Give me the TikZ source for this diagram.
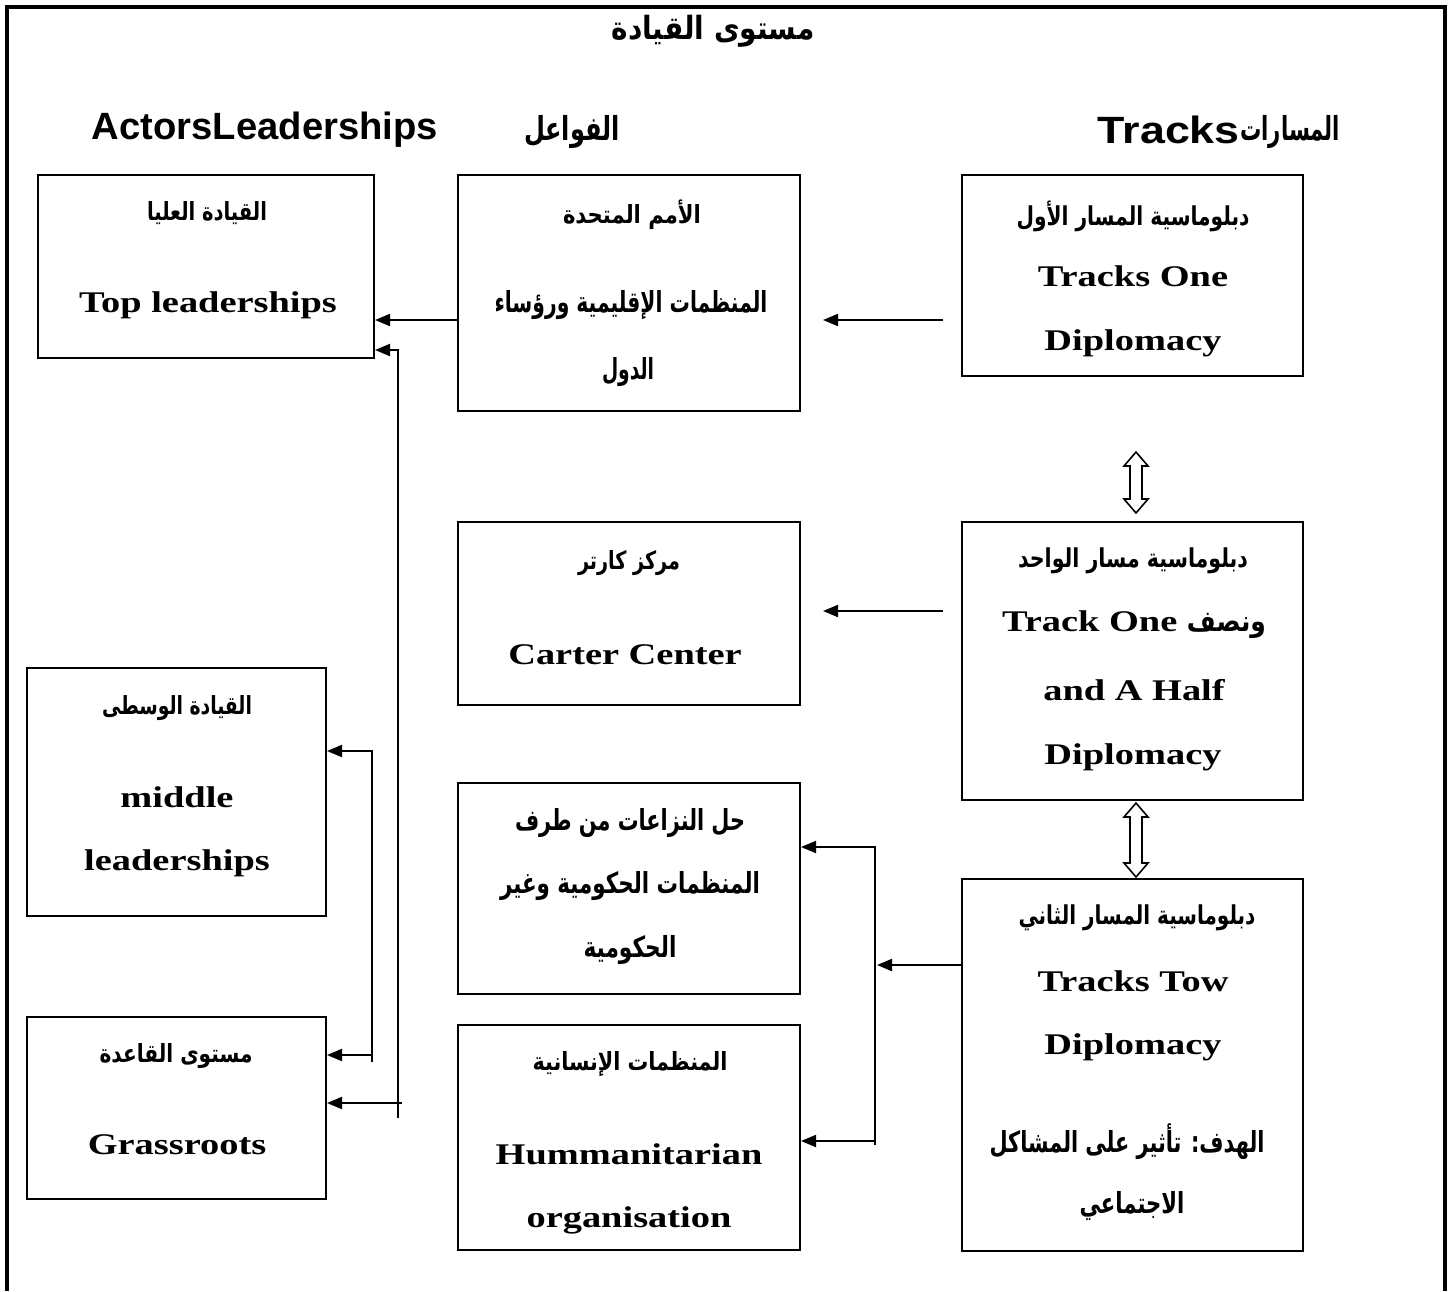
\documentclass[tikz,border=0pt]{standalone}
\usepackage{fontspec}
\usepackage{graphicx}
\usetikzlibrary{arrows.meta,calc}
\TeXXeTstate=1
\setmainfont{Liberation Serif}
\newfontfamily\latf[FakeStretch=1.28]{Liberation Serif}
\newfontfamily\headfont{Liberation Sans}
\newfontfamily\arabicfont[Script=Arabic]{DejaVu Sans}
% set a piece of text squeezed or stretched sideways to a given width (pt)
\newlength\fitwd
\newcommand\fitw[2]{%
  \settowidth\fitwd{#2}%
  \pgfmathsetmacro\fitsx{#1/\fitwd}%
  \scalebox{\fitsx}[1]{#2}}
% Arabic line: optional font size, target width, text
\newcommand\arline[3][25]{%
  \fitw{#2}{\arabicfont\bfseries\fontsize{#1}{#1}\selectfont #3}}
% hollow two-headed block arrow: x, top tip, bottom tip
\newcommand\hollowdbl[3]{%
  \draw[line width=1.6pt, fill=white, line join=miter]
    (#1,#2) -- ({#1+12},{#2+14}) -- ({#1+6},{#2+14}) -- ({#1+6},{#3-14})
    -- ({#1+12},{#3-14}) -- (#1,#3) -- ({#1-12},{#3-14}) -- ({#1-6},{#3-14})
    -- ({#1-6},{#2+14}) -- ({#1-12},{#2+14}) -- cycle;}
\tikzset{
  box/.style={draw, line width=2pt, rectangle, inner sep=0pt},
  lat/.style={font={\latf\bfseries\fontsize{30}{36}\selectfont}, inner sep=0pt},
  arl/.style={inner sep=0pt},
  head/.style={font={\headfont\bfseries\fontsize{38}{42}\selectfont}, inner sep=0pt},
  arr/.style={line width=2pt, -{Triangle[length=15pt,width=12pt]}},
}
\begin{document}
\begin{tikzpicture}[x=1pt,y=-1pt]
\useasboundingbox (0,0) rectangle (1453,1291);

% open outer frame
\draw[line width=4pt] (7,1291) -- (7,7) -- (1445,7) -- (1445,1291);

% headings
\node[arl] (title) at (713,31) {\arline[32]{203}{\beginR مستوى القيادة\endR}};
\node[head] (hactors) at (265,130) {\fitw{346}{ActorsLeaderships}};
\node[arl] (hfaw) at (572,132) {\arline[33]{96}{\beginR الفواعل\endR}};
\node[head, anchor=east] (htracks) at (1240,130) {\fitw{142}{Tracks}};
\node[arl, anchor=west] (hmas) at (1240,132) {\arline[33]{100}{\beginR المسارات\endR}};

% boxes
\node[box, minimum width=336, minimum height=183] (top) at (206,266.5) {};
\node[box, minimum width=342, minimum height=236] (un) at (629,293) {};
\node[box, minimum width=341, minimum height=201] (t1) at (1132.5,275.5) {};
\node[box, minimum width=342, minimum height=183] (carter) at (629,613.5) {};
\node[box, minimum width=341, minimum height=278] (t15) at (1132.5,661) {};
\node[box, minimum width=299, minimum height=248] (mid) at (176.5,792) {};
\node[box, minimum width=299, minimum height=182] (grass) at (176.5,1108) {};
\node[box, minimum width=342, minimum height=211] (conf) at (629,888.5) {};
\node[box, minimum width=342, minimum height=225] (hum) at (629,1137.5) {};
\node[box, minimum width=341, minimum height=372] (t2) at (1132.5,1065) {};

% texts of the boxes
\node[arl] (topA) at (207,213) {\arline{120}{\beginR القيادة العليا\endR}};
\node[lat] (topB) at (208,305) {Top leaderships};

\node[arl] (unA) at (632,215) {\arline{138}{\beginR الأمم المتحدة\endR}};
\node[arl] (unB) at (631,305) {\arline[29]{273}{\beginR المنظمات الإقليمية ورؤساء\endR}};
\node[arl] (unC) at (628,372) {\arline[29]{52}{\beginR الدول\endR}};

\node[arl] (t1A) at (1133,216) {\arline[26]{233}{\beginR دبلوماسية المسار الأول\endR}};
\node[lat] (t1B) at (1133,276) {Tracks One};
\node[lat] (t1C) at (1133,343) {Diplomacy};

\node[arl] (carA) at (629,563) {\arline{102}{\beginR مركز كارتر\endR}};
\node[lat] (carB) at (625,655) {Carter Center};

\node[arl] (t15A) at (1133,561) {\arline[26]{230}{\beginR دبلوماسية مسار الواحد\endR}};
\node[lat] (t15B) at (1134,625) {Track One \arline[29]{79}{\beginR ونصف\endR}};
\node[lat] (t15C) at (1134,690) {and A Half};
\node[lat] (t15D) at (1133,757) {Diplomacy};

\node[arl] (midA) at (177,708) {\arline{150}{\beginR القيادة الوسطى\endR}};
\node[lat] (midB) at (177,797) {middle};
\node[lat] (midC) at (177,863) {leaderships};

\node[arl] (grA) at (176,1056) {\arline{153}{\beginR مستوى القاعدة\endR}};
\node[lat] (grB) at (177,1145) {Grassroots};

\node[arl] (cfA) at (630,823) {\arline[29]{230}{\beginR حل النزاعات من طرف\endR}};
\node[arl] (cfB) at (630,886) {\arline[29]{260}{\beginR المنظمات الحكومية وغير\endR}};
\node[arl] (cfC) at (630,950) {\arline[29]{93}{\beginR الحكومية\endR}};

\node[arl] (huA) at (630,1064) {\arline{195}{\beginR المنظمات الإنسانية\endR}};
\node[lat] (huB) at (629,1154) {Hummanitarian};
\node[lat] (huC) at (629,1220) {organisation};

\node[arl] (t2A) at (1137,918) {\arline[26]{237}{\beginR دبلوماسية المسار الثاني\endR}};
\node[lat] (t2B) at (1133,981) {Tracks Tow};
\node[lat] (t2C) at (1133,1047) {Diplomacy};
\node[arl] (t2D) at (1127,1142) {\arline[29]{275}{\beginR الهدف: تأثير على المشاكل\endR}};
\node[arl] (t2E) at (1132,1206) {\arline[29]{105}{\beginR الاجتماعي\endR}};

% helper points for the connector rows and free ends
\coordinate (r320) at (0,320);
\coordinate (r350) at (0,350);
\coordinate (r611) at (0,611);
\coordinate (r751) at (0,751);
\coordinate (r847) at (0,847);
\coordinate (r965) at (0,965);
\coordinate (r1055) at (0,1055);
\coordinate (r1103) at (0,1103);
\coordinate (r1141) at (0,1141);
\coordinate (vA) at (398,1118);
\coordinate (vAg) at (402,1103);
\coordinate (vB) at (372,1062);
\coordinate (vBg) at (372,1055);
\coordinate (vC) at (875,1145);
\coordinate (vCh) at (875,1141);
\coordinate (jC) at (877,965);

% connectors
\draw[arr, shorten <=18pt, shorten >=22pt] (t1.west |- r320) -- (un.east |- r320);
\draw[arr] (un.west |- r320) -- (top.east |- r320);
\draw[arr] (vA) |- (top.east |- r350);
\draw[arr] (vAg) -- (grass.east |- r1103);
\draw[arr] (vB) |- (mid.east |- r751);
\draw[arr] (vBg) -- (grass.east |- r1055);
\draw[arr, shorten <=18pt, shorten >=22pt] (t15.west |- r611) -- (carter.east |- r611);
\draw[arr] (vC) |- (conf.east |- r847);
\draw[arr] (vCh) -- (hum.east |- r1141);
\draw[arr] (t2.west |- r965) -- (jC);

% two-way links between the tracks
\hollowdbl{1136}{452}{513}
\hollowdbl{1136}{803}{877}
\end{tikzpicture}
\end{document}
